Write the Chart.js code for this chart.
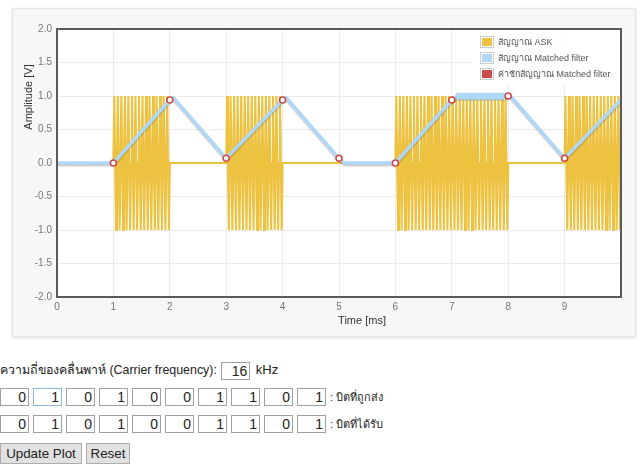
<!DOCTYPE html>
<html>
<head>
<meta charset="utf-8">
<script src="https://cdn.jsdelivr.net/npm/chart.js@4.4.1/dist/chart.umd.min.js"></script>
<style>
  html, body { margin: 0; padding: 0; background: #fff; width: 643px; height: 464px; overflow: hidden;
    font-family: Arial, "Liberation Sans", "Noto Sans", sans-serif; color: #222; }
  #card { position: absolute; left: 12px; top: 8px; width: 624px; height: 329px; background: #f7f7f7;
    border: 1px solid #e4e4e4; box-shadow: 0 1px 3px rgba(0,0,0,0.12); box-sizing: border-box; }
  #wrap { position: absolute; left: 0; top: 0; width: 643px; height: 340px; }
  .row { position: absolute; left: 0; font-size: 13px; white-space: nowrap; }
  .bit, .freq { display: inline-block; box-sizing: border-box; width: 29px; height: 18px; border: 1px solid #a0a0a0;
    text-align: right; padding-right: 2px; font-size: 14px; line-height: 16px; vertical-align: middle; margin-right: 4px; background: #fff; }
  .bit.focus { border-color: #8fb8d8; }
  .lbl { display: inline-block; font-size: 11px; vertical-align: middle; margin-left: 0px; }
  .btn { position: absolute; top: 443px; height: 21px; box-sizing: border-box; background: #e1e1e1; border: 1px solid #adadad;
    font-size: 13.33px; line-height: 19px; text-align: center; color: #222; }
</style>
</head>
<body>
<div id="card"></div>
<div id="wrap"><canvas id="c" width="643" height="340"></canvas></div>

<div class="row" style="top:360px;font-size:12.4px;">ความถี่ของคลื่นพาห์ (Carrier frequency): <span class="freq" id="freq" style="margin-left:1px;margin-right:2px;">16</span> <span style="font-size:13px">kHz</span></div>
<div class="row" id="sent" style="top:388px;"></div>
<div class="row" id="recv" style="top:415px;"></div>
<div class="btn" style="left:0;width:82px;">Update Plot</div>
<div class="btn" style="left:86px;width:44px;">Reset</div>

<script>
// ---- data ----
const sentBits = [0, 1, 0, 1, 0, 0, 1, 1, 0, 1];
const recvBits = [0, 1, 0, 1, 0, 0, 1, 1, 0, 1];
const carrierKHz = 16;                 // cycles per 1 ms bit
const carrierCycle = [0, 1, 0, -1];    // one carrier period, peak amplitude 1 V

// matched filter output (time ms, amplitude V)
const matchedT = [0, 1, 2, 2.06, 3, 4, 4.06, 5, 5.1, 6, 7, 7.08, 7.95, 8.05, 9, 10];
const matchedV = [0, 0, 0.94, 0.98, 0.07, 0.94, 0.98, 0.07, 0, 0, 0.94, 0.99, 0.99, 0.99, 0.07, 0.94];
// ripple band on the 1-1 plateau
const rippleT = [7.08, 7.95];
const rippleV = [0.995, 0.995];
// sampled matched filter values
const sampleT = [1, 2, 3, 4, 5, 6, 7, 8, 9];
const sampleV = [0.0, 0.94, 0.07, 0.94, 0.07, 0.0, 0.94, 1.0, 0.07];

const xTicks = [0, 1, 2, 3, 4, 5, 6, 7, 8, 9];
const yTicks = [-2, -1.5, -1, -0.5, 0, 0.5, 1, 1.5, 2];

const legendLabels = ['สัญญาณ ASK', 'สัญญาณ Matched filter', 'ค่าชักสัญญาณ Matched filter'];
const seriesColors = ['#edc240', '#afd8f8', '#cb4b4b'];

// ---- controls ----
function fillRow(id, bits, label, focusIdx) {
  const el = document.getElementById(id);
  bits.forEach((b, i) => {
    const s = document.createElement('span');
    s.className = 'bit' + (i === focusIdx ? ' focus' : '');
    s.textContent = b;
    el.appendChild(s);
  });
  const l = document.createElement('span');
  l.className = 'lbl';
  l.textContent = ': ' + label;
  el.appendChild(l);
}
fillRow('sent', sentBits, 'บิตที่ถูกส่ง', 1);
fillRow('recv', recvBits, 'บิตที่ได้รับ', -1);

// ---- build datasets from arrays ----
const askData = [];
sentBits.forEach((b, i) => {
  for (let c = 0; c < carrierKHz; c++) {
    carrierCycle.forEach((s, k) => {
      askData.push({ x: i + (c + k / carrierCycle.length) / carrierKHz, y: b * s });
    });
  }
});
askData.push({ x: sentBits.length, y: 0 });
const matchedData = matchedT.map((t, i) => ({ x: t, y: matchedV[i] }));
const rippleData = rippleT.map((t, i) => ({ x: t, y: rippleV[i] }));
const sampleData = sampleT.map((t, i) => ({ x: t, y: sampleV[i] }));

const plotBg = {
  id: 'plotBg',
  beforeDraw(chart) {
    const { ctx, chartArea: a } = chart;
    ctx.save();
    ctx.fillStyle = '#ffffff';
    ctx.fillRect(a.left, a.top, a.right - a.left, a.bottom - a.top);
    ctx.restore();
  },
  beforeDatasetDraw(chart, args) {
    if (args.index === 1 || args.index === 2) {
      const ctx = chart.ctx;
      ctx.save();
      ctx.shadowColor = 'rgba(0,0,0,0.22)';
      ctx.shadowOffsetY = 1.5;
      ctx.shadowBlur = 1.5;
    }
  },
  afterDatasetDraw(chart, args) {
    if (args.index === 1 || args.index === 2) chart.ctx.restore();
  },
  afterDraw(chart) {
    const { ctx, chartArea: a } = chart;
    ctx.save();
    // legend
    ctx.fillStyle = 'rgba(255,255,255,0.9)';
    ctx.fillRect(471, 30, 150, 54);
    ctx.font = '9px Arial, "Liberation Sans", sans-serif';
    ctx.textBaseline = 'middle';
    const rows = [42, 58, 74];
    legendLabels.forEach((lab, i) => {
      ctx.strokeStyle = '#cccccc';
      ctx.lineWidth = 1;
      ctx.strokeRect(480.5, rows[i] - 5.5, 13, 11);
      ctx.fillStyle = seriesColors[i];
      ctx.fillRect(482, rows[i] - 4, 10, 8);
      ctx.fillStyle = '#545454';
      ctx.fillText(lab, 498, rows[i] + 0.5);
    });
    // border
    ctx.strokeStyle = '#5a5a5a';
    ctx.lineWidth = 2;
    ctx.strokeRect(a.left, a.top, a.right - a.left, a.bottom - a.top);
    // axis titles
    ctx.fillStyle = '#333';
    ctx.font = '11px Arial, "Liberation Sans", sans-serif';
    ctx.textAlign = 'center';
    ctx.fillText('Time [ms]', 362, 321);
    ctx.translate(29, 97);
    ctx.rotate(-Math.PI / 2);
    ctx.fillText('Amplitude [V]', 0, 0);
    ctx.restore();
  }
};

new Chart(document.getElementById('c'), {
  type: 'line',
  data: {
    datasets: [
      { label: legendLabels[0], data: askData, borderColor: seriesColors[0], borderWidth: 2.1, pointRadius: 0, order: 4, tension: 0 },
      { label: legendLabels[1], data: matchedData, borderColor: seriesColors[1], borderWidth: 3.5, pointRadius: 0, order: 3, tension: 0, borderJoinStyle: 'round' },
      { label: '', data: rippleData, borderColor: seriesColors[1], borderWidth: 7, pointRadius: 0, order: 2, tension: 0 },
      { label: legendLabels[2], data: sampleData, showLine: false, pointRadius: 3, pointBorderWidth: 1.6,
        pointBorderColor: seriesColors[2], pointBackgroundColor: '#ffffff', borderColor: seriesColors[2], order: 1 }
    ]
  },
  options: {
    responsive: false,
    animation: false,
    parsing: false,
    normalized: true,
    layout: { padding: { top: 29, right: 22, left: 0, bottom: 0 } },
    plugins: { legend: { display: false }, tooltip: { enabled: false } },
    scales: {
      x: {
        type: 'linear', min: 0, max: 10,
        afterBuildTicks(s) { s.ticks = xTicks.map(v => ({ value: v })); },
        afterFit(s) { s.height = 43; },
        ticks: { color: '#777', font: { size: 10, family: 'Arial, "Liberation Sans", sans-serif' }, padding: 4, maxRotation: 0,
          callback: v => String(v) },
        grid: { color: '#ebebeb', drawTicks: false, lineWidth: 1 },
        border: { display: false }
      },
      y: {
        type: 'linear', min: -2, max: 2,
        afterBuildTicks(s) { s.ticks = yTicks.map(v => ({ value: v })); },
        afterFit(s) { s.width = 57; },
        ticks: { color: '#777', font: { size: 10, family: 'Arial, "Liberation Sans", sans-serif' }, padding: 5,
          callback: v => Number(v).toFixed(1) },
        grid: { color: '#ebebeb', drawTicks: false, lineWidth: 1 },
        border: { display: false }
      }
    }
  },
  plugins: [plotBg]
});
</script>
</body>
</html>
